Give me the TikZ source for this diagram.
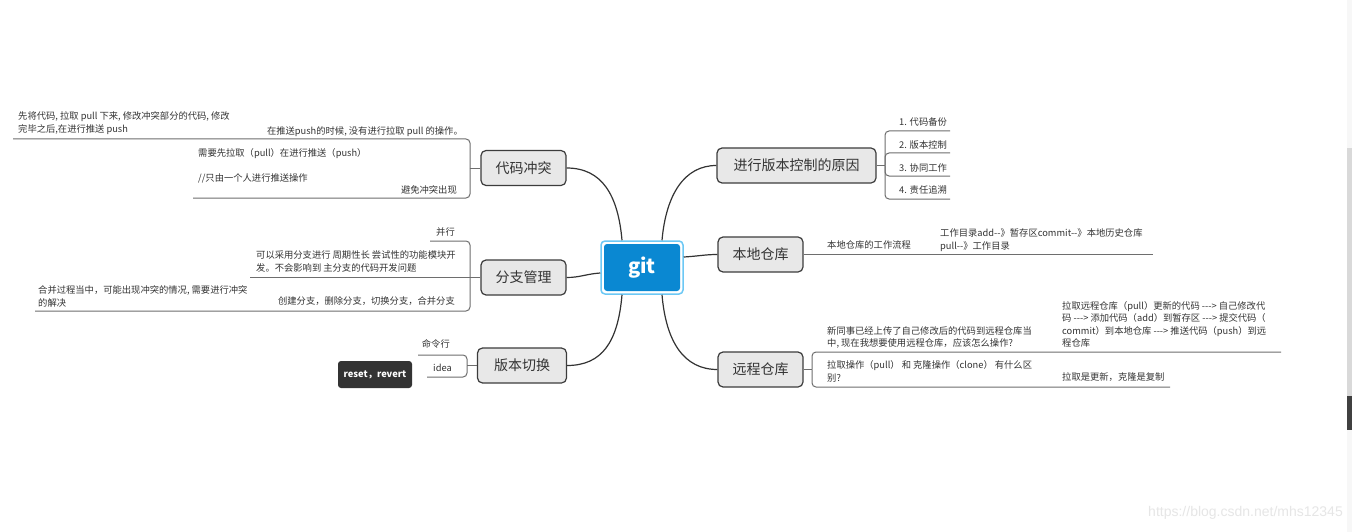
\documentclass[tikz,border=0pt]{standalone}
\usepackage{fontspec}
\setmainfont{Noto Sans CJK SC}
\newfontfamily\wmfont{Liberation Sans}
\definecolor{boxfill}{HTML}{E8E8E8}
\definecolor{boxborder}{HTML}{3C3C3C}
\definecolor{linkdark}{HTML}{333333}
\definecolor{ulgray}{HTML}{6E6E6E}
\definecolor{textdark}{HTML}{333333}
\definecolor{gitblue}{HTML}{0A88D2}
\definecolor{gitframe}{HTML}{6CC8F5}
\definecolor{wmgray}{HTML}{E6E6E6}
\definecolor{darkbox}{HTML}{333333}
\begin{document}
\begin{tikzpicture}[x=1pt,y=-1pt,
  mainbox/.style={draw=boxborder, fill=boxfill, line width=1.2pt, rounded corners=5pt,
    minimum height=35pt, inner sep=0pt, text=textdark, font=\fontsize{14}{16}\selectfont},
  subtext/.style={inner sep=0pt, text=textdark, align=left, font=\fontsize{9.3}{12.4}\selectfont},
  link/.style={draw=linkdark, line width=1.2pt},
  uline/.style={draw=ulgray, line width=1pt, rounded corners=4pt},
]
\useasboundingbox (0,0) rectangle (1352,532);
\fill[white] (0,0) rectangle (1352,532);
% scrollbar
\fill[black!3] (1347,0) rectangle (1352,532);
\fill[black!15] (1347,148) rectangle (1352,396);
\fill[black!75] (1347,396) rectangle (1352,430);

% central node
\node[draw=gitframe, line width=1.5pt, fill=white, rounded corners=4pt, minimum width=82pt, minimum height=53pt, inner sep=0pt] (gitframe) at (642,267.5) {};
\node[fill=gitblue, rounded corners=3pt, minimum width=76pt, minimum height=47pt, inner sep=0pt, text=white, font=\fontsize{20}{22}\selectfont\bfseries] (git) at (642,267.5) {git};

% main topics
\node[mainbox, minimum width=159pt] (reason) at (796.5,165.5) {进行版本控制的原因};
\node[mainbox, minimum width=85pt] (local) at (760.5,254.5) {本地仓库};
\node[mainbox, minimum width=85pt] (remote) at (760.5,369.5) {远程仓库};
\node[mainbox, minimum width=85pt] (conflict) at (523.5,168) {代码冲突};
\node[mainbox, minimum width=85pt] (branch) at (523.5,277.5) {分支管理};
\node[mainbox, minimum width=89pt] (switch) at (522,365.5) {版本切换};

% main connectors
\draw[link] ([xshift=-20pt]gitframe.north) .. controls (618,195) and (602,168) .. (conflict.east);
\draw[link] ([xshift=20pt]gitframe.north) .. controls (666,195) and (684,165.5) .. (reason.west);
\draw[link] ([yshift=-5.5pt]gitframe.west) .. controls (586,274) and (580,277.5) .. (branch.east);
\draw[link] ([yshift=10.5pt]gitframe.east) .. controls (700,256) and (705,254.5) .. (local.west);
\draw[link] ([xshift=-20pt]gitframe.south) .. controls (618,342) and (602,365.5) .. (switch.east);
\draw[link] ([xshift=20pt]gitframe.south) .. controls (666,342) and (684,369.5) .. (remote.west);

% ---- reason subtopics
\coordinate (rj) at (885,165.5);
\node[subtext, anchor=west] (r1) at (899,122) {1. 代码备份};
\node[subtext, anchor=west] (r2) at (899,145) {2. 版本控制};
\node[subtext, anchor=west] (r3) at (899,168) {3. 协同工作};
\node[subtext, anchor=west] (r4) at (899,190) {4. 责任追溯};
\draw[uline] (reason.east) -- (rj);
\draw[uline] (rj) |- (950,131);
\draw[uline] (rj) |- (950,153);
\draw[uline] (rj) |- (950,176);
\draw[uline] (rj) |- (950,199);

% ---- local subtopics
\node[subtext, anchor=west] (l1) at (827,245) {本地仓库的工作流程};
\node[subtext, anchor=west] (l2) at (940,240) {工作目录add-{}-》暂存区commit-{}-》本地历史仓库\\pull-{}-》工作目录};
\coordinate (lend) at (1153,254.5);
\draw[uline] (local.east) -- (lend);

% ---- remote subtopics
\coordinate (mj) at (812,369.5);
\node[subtext, anchor=west] (m1) at (827,337.5) {新同事已经上传了自己修改后的代码到远程仓库当\\中, 现在我想要使用远程仓库，应该怎么操作?};
\node[subtext, anchor=west] (m1c) at (1062,324.6) {拉取远程仓库（pull）更新的代码 -{}-{}-> 自己修改代\\码 -{}-{}-> 添加代码（add）到暂存区 -{}-{}-> 提交代码（\\commit）到本地仓库 -{}-{}-> 推送代码（push）到远\\程仓库};
\node[subtext, anchor=west] (m2) at (827,371.5) {拉取操作（pull） 和 克隆操作（clone） 有什么区\\别?};
\node[subtext, anchor=west] (m2c) at (1062,377) {拉取是更新，克隆是复制};
\draw[uline] (remote.east) -- (mj);
\draw[uline] (mj) |- (1281,352);
\draw[uline] (mj) |- (1170,387);

% ---- conflict subtopics
\coordinate (cj) at (470,168);
\node[subtext, anchor=east] (c1) at (463,132) {在推送push的时候, 没有进行拉取 pull 的操作。};
\node[subtext, anchor=west] (c1c) at (18,123) {先将代码, 拉取 pull 下来, 修改冲突部分的代码, 修改\\完毕之后,在进行推送 push};
\node[subtext, anchor=east] (c2) at (457,190) {避免冲突出现};
\node[subtext, anchor=west] (c2c) at (198,165.5) {需要先拉取（pull）在进行推送（push）\\[12.4pt]//只由一个人进行推送操作};
\draw[uline] (conflict.west) -- (cj);
\draw[uline] (cj) |- (13,139);
\draw[uline] (cj) |- (193,198);

% ---- branch subtopics
\coordinate (bj) at (470,277.5);
\node[subtext, anchor=east] (b1) at (455,232) {并行};
\node[subtext, anchor=west] (b2) at (256,261.5) {可以采用分支进行 周期性长 尝试性的功能模块开\\发。不会影响到 主分支的代码开发问题};
\node[subtext, anchor=east] (b3) at (455,301) {创建分支，删除分支，切换分支，合并分支};
\node[subtext, anchor=west] (b3c) at (38,296.5) {合并过程当中，可能出现冲突的情况, 需要进行冲突\\的解决};
\draw[uline] (branch.west) -- (bj);
\draw[uline] (bj) |- (430,241);
\draw[uline] (bj) -- (250,277.5);
\draw[uline] (bj) |- (35,311);

% ---- switch subtopics
\coordinate (vj) at (467,365.5);
\node[subtext, anchor=east] (v1) at (450,344) {命令行};
\node[subtext, anchor=east] (v2) at (452,368) {idea};
\draw[uline] (switch.west) -- (vj);
\draw[uline] (vj) |- (418,355);
\draw[uline] (vj) |- (427,377);
\node[fill=darkbox, rounded corners=3pt, minimum width=74pt, minimum height=27pt, inner sep=0pt, text=white, font=\fontsize{9.3}{11}\selectfont\bfseries] (rv) at (375,374.5) {reset，revert};

% watermark
\node[anchor=east, inner sep=0pt, text=wmgray, font=\wmfont\fontsize{14}{16}\selectfont] (wm) at (1343,513) {https://blog.csdn.net/mhs12345};
\end{tikzpicture}
\end{document}
